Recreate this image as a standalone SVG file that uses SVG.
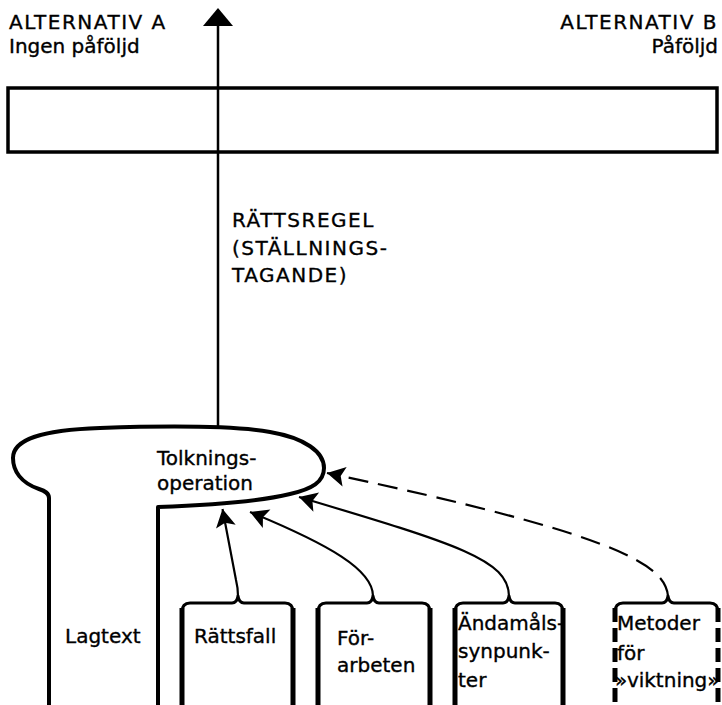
<svg xmlns="http://www.w3.org/2000/svg" width="722" height="705" viewBox="0 0 722 705">
<style>
text{font-family:"DejaVu Sans","Liberation Sans",sans-serif;font-size:20px;fill:#000;stroke:#000;stroke-width:0.35px}
.caps{letter-spacing:1.5px}
.end{text-anchor:end}
.line{fill:none;stroke:#000;stroke-width:2.2}
.dash{stroke-dasharray:20 10}
.brace{fill:none;stroke:#000;stroke-width:3;stroke-linejoin:round}
.wall{fill:none;stroke:#000;stroke-width:5}
.dwall{stroke-dasharray:14 6}
</style>
<defs>
<marker id="ah" markerUnits="userSpaceOnUse" markerWidth="24" markerHeight="24" viewBox="-20 -12 22 24" refX="0" refY="0" orient="auto">
<path d="M0,0 L-18,-10 L-14,0 L-18,10 z" fill="#000"/>
</marker>
</defs>
<rect width="722" height="705" fill="#fff"/>
<g id="alt-a">
<text class="caps" x="9" y="29">ALTERNATIV A</text>
<text x="9" y="53">Ingen påföljd</text>
</g>
<g id="alt-b">
<text class="caps end" x="718" y="29">ALTERNATIV B</text>
<text class="end" x="718" y="53">Påföljd</text>
</g>
<g id="range">
<rect x="8" y="88" width="709" height="64" fill="none" stroke="#000" stroke-width="3.5"/>
</g>
<g id="rule-label">
<text class="caps" x="232" y="227">RÄTTSREGEL</text>
<text class="caps" x="232" y="255">(STÄLLNINGS-</text>
<text class="caps" x="232" y="282">TAGANDE)</text>
</g>
<g id="tolkning">
<path d="M49 705 L49 498 C49 493 45 491 39 489 C21 483 13 471 13 458 C13 440 40 430 100 428 C160 426 230 425 270 432 C305 438 324 452 324 468 C324 482 312 489 290 494 C265 500 220 505 158 507 L158 705" fill="#fff" stroke="#000" stroke-width="4" stroke-linejoin="round"/>
<text x="157" y="465">Tolknings-</text>
<text x="157" y="490">operation</text>
<text x="65" y="643">Lagtext</text>
</g>
<g id="rattsfall">
<path class="brace" d="M182 612 Q182 603 190 603 L232 603 Q237 603 238 596 Q239 603 244 603 L285 603 Q293 603 293 612"/>
<path class="wall" d="M182 608 V705 M293 608 V705"/>
<text x="194" y="643">Rättsfall</text>
</g>
<g id="forarbeten">
<path class="brace" d="M318 612 Q318 603 326 603 L367 603 Q372 603 373 596 Q374 603 379 603 L422 603 Q430 603 430 612"/>
<path class="wall" d="M318 608 V705 M430 608 V705"/>
<text x="337" y="645">För-</text>
<text x="337" y="672">arbeten</text>
</g>
<g id="andamal">
<path class="brace" d="M455 612 Q455 603 463 603 L503 603 Q508 603 509 596 Q510 603 515 603 L555 603 Q563 603 563 612"/>
<path class="wall" d="M455 608 V705 M563 608 V705"/>
<text x="458" y="630">Ändamåls-</text>
<text x="458" y="658">synpunk-</text>
<text x="458" y="687">ter</text>
</g>
<g id="metoder">
<path class="brace" d="M615 612 Q615 603 623 603 L662 603 Q667 603 668 596 Q669 603 674 603 L710 603 Q718 603 718 612"/>
<path class="wall dwall" d="M615 608 V705 M718 608 V705"/>
<text x="617" y="630">Metoder</text>
<text x="617" y="660">för</text>
<text x="615" y="687">»viktning»</text>
</g>
<g id="connectors">
<line x1="218" y1="426" x2="218" y2="20" stroke="#000" stroke-width="2.5"/>
<polygon points="218,8 203,26 233,26" fill="#000"/>
<path class="line" d="M238 596 Q238 588 236 580 L222.5 509" marker-end="url(#ah)"/>
<path class="line" d="M373 596 C373 570 330 545 250 512" marker-end="url(#ah)"/>
<path class="line" d="M509 596 C508 560 460 545 299 497" marker-end="url(#ah)"/>
<path class="line dash" d="M668 596 C665 565 620 535 327 473" marker-end="url(#ah)"/>
</g>
</svg>
